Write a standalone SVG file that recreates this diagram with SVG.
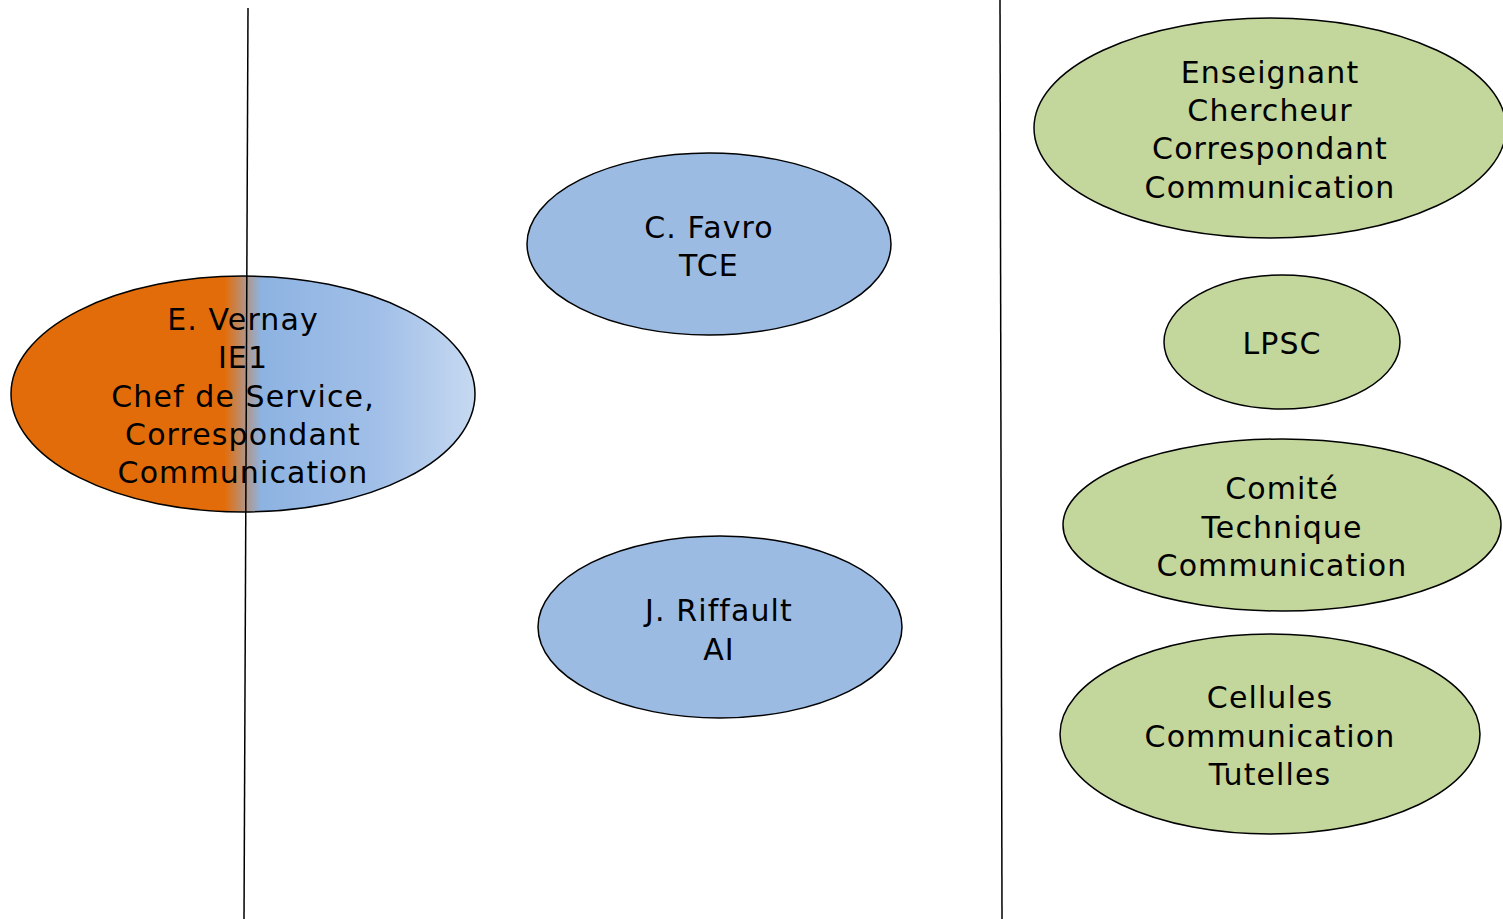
<svg xmlns="http://www.w3.org/2000/svg" width="1503" height="919" viewBox="0 0 1503 919">
<style>
.n{stroke:#000;stroke-width:1.5}
.blue{fill:#9BBBE3}
.green{fill:#C3D69B}
text{font-family:"DejaVu Sans","Verdana",sans-serif;font-size:30px;letter-spacing:1.1px;fill:#000;text-anchor:middle}
.c line{stroke:#000;stroke-width:1.5}
</style>
<defs>
<linearGradient id="g1" x1="0" y1="0" x2="1" y2="0">
<stop offset="0" stop-color="#E36C0A"/>
<stop offset="0.46" stop-color="#E36C0A"/>
<stop offset="0.54" stop-color="#8DB3E2"/>
<stop offset="0.8" stop-color="#A2C0E8"/>
<stop offset="1" stop-color="#C6D9F1"/>
</linearGradient>
</defs>
<rect width="1503" height="919" fill="#fff"/>
<g id="vernay">
<ellipse class="n" cx="243" cy="394" rx="232" ry="118" fill="url(#g1)"/>
<text x="243" y="330">E. Vernay</text>
<text x="243" y="368">IE1</text>
<text x="243" y="407">Chef de Service,</text>
<text x="243" y="445">Correspondant</text>
<text x="243" y="483">Communication</text>
</g>
<g id="favro">
<ellipse class="n blue" cx="709" cy="244" rx="182" ry="91"/>
<text x="709" y="238">C. Favro</text>
<text x="709" y="276">TCE</text>
</g>
<g id="riffault">
<ellipse class="n blue" cx="720" cy="627" rx="182" ry="91"/>
<text x="719" y="621">J. Riffault</text>
<text x="719" y="660">AI</text>
</g>
<g id="enseignant">
<ellipse class="n green" cx="1270" cy="128" rx="236" ry="110"/>
<text x="1270" y="83">Enseignant</text>
<text x="1270" y="121">Chercheur</text>
<text x="1270" y="159">Correspondant</text>
<text x="1270" y="198">Communication</text>
</g>
<g id="lpsc">
<ellipse class="n green" cx="1282" cy="342" rx="118" ry="67"/>
<text x="1282" y="354">LPSC</text>
</g>
<g id="comite">
<ellipse class="n green" cx="1282" cy="525" rx="219" ry="86"/>
<text x="1282" y="499">Comité</text>
<text x="1282" y="538">Technique</text>
<text x="1282" y="576">Communication</text>
</g>
<g id="cellules">
<ellipse class="n green" cx="1270" cy="734" rx="210" ry="100"/>
<text x="1270" y="708">Cellules</text>
<text x="1270" y="747">Communication</text>
<text x="1270" y="785">Tutelles</text>
</g>
<g id="connectors" class="c">
<line x1="248" y1="8" x2="244" y2="919"/>
<line x1="1000" y1="0" x2="1002" y2="919"/>
</g>
</svg>
